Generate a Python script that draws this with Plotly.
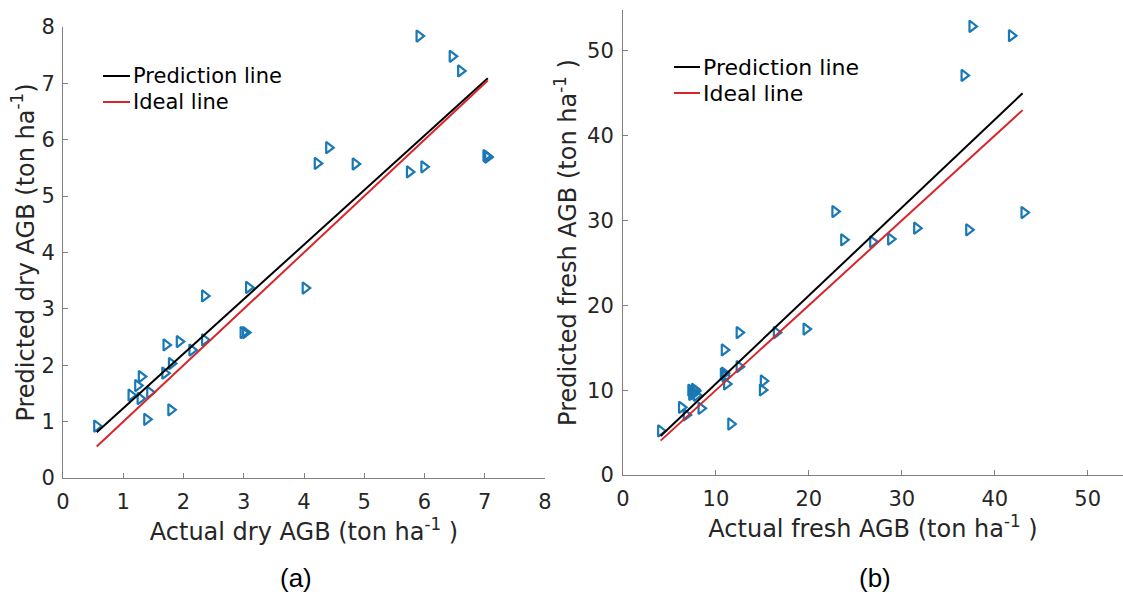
import plotly.graph_objects as go

# ---- (a) dry above-ground biomass, ton/ha ----
dry_actual = [0.56, 5.91, 6.46, 6.60, 4.41, 4.22, 4.85, 5.75, 5.99, 7.02, 7.05, 7.04,
              4.02, 3.08, 2.35, 2.99, 3.03, 2.35, 1.93, 1.71, 2.14, 1.80, 1.69,
              1.30, 1.24, 1.13, 1.28, 1.44, 1.79, 1.39]
dry_predicted = [0.92, 7.84, 7.48, 7.22, 5.86, 5.58, 5.57, 5.43, 5.52, 5.72, 5.69, 5.70,
                 3.37, 3.38, 3.23, 2.58, 2.58, 2.45, 2.42, 2.36, 2.27, 2.03, 1.86,
                 1.80, 1.64, 1.47, 1.41, 1.52, 1.21, 1.04]
dry_fit_x = [0.56, 7.05]
dry_fit_y = [0.81, 7.09]
dry_ideal = [0.56, 7.05]

# ---- (b) fresh above-ground biomass, ton/ha ----
fresh_actual = [4.05, 37.55, 41.8, 36.7, 22.8, 43.15, 31.6, 37.2, 23.75, 26.87, 28.8,
                19.7, 16.5, 12.5, 10.9, 12.5, 10.9, 11.0, 10.8, 11.15, 15.1, 15.0, 11.6,
                7.3, 7.5, 7.6, 7.8, 7.4, 7.7, 7.9, 6.3, 8.4, 6.8]
fresh_predicted = [5.19, 52.87, 51.77, 47.09, 31.05, 30.93, 29.09, 28.9, 27.71, 27.48, 27.8,
                   17.2, 16.78, 16.78, 14.74, 12.77, 12.0, 11.6, 11.9, 10.73, 11.08, 10.02, 6.01,
                   10.0, 9.8, 9.6, 9.9, 9.5, 10.1, 9.4, 7.98, 7.86, 7.08]
fresh_fit_x = [4.05, 43.0]
fresh_fit_y = [4.6, 45.0]
fresh_ideal = [4.05, 43.0]

legend_labels = ["Prediction line", "Ideal line"]

W, H = 1123, 600
FONT = "DejaVu Sans"
TXT = "#262626"
AXC = "#808080"
MARK = "#1A78B4"
RED = "#D7262B"
LINE_COLORS = ["black", RED]


def px_x(v):
    return v / W


def px_y(v):
    return 1 - v / H


fig = go.Figure()

panels = [
    ("x", "y", dry_actual, dry_predicted, dry_fit_x, dry_fit_y, dry_ideal),
    ("x2", "y2", fresh_actual, fresh_predicted, fresh_fit_x, fresh_fit_y, fresh_ideal),
]
for xa, ya, ax_vals, pr_vals, fx, fy, ideal in panels:
    fig.add_trace(go.Scatter(
        x=ax_vals, y=pr_vals, mode="markers", xaxis=xa, yaxis=ya, showlegend=False,
        marker=dict(symbol="triangle-right-open", size=10, color=MARK,
                    line=dict(width=2.2, color=MARK)),
    ))
    fig.add_trace(go.Scatter(
        x=fx, y=fy, mode="lines", xaxis=xa, yaxis=ya, name=legend_labels[0],
        line=dict(color=LINE_COLORS[0], width=2), showlegend=False,
    ))
    fig.add_trace(go.Scatter(
        x=ideal, y=ideal, mode="lines", xaxis=xa, yaxis=ya, name=legend_labels[1],
        line=dict(color=LINE_COLORS[1], width=2), showlegend=False,
    ))

# Compact in-axes legends: short line sample followed by the label
shapes, annotations = [], []
legend_boxes = [
    # (sample left px, sample right px, first row y px, row step px, font size)
    (103, 130, 76, 26, 21),
    (674, 700, 67, 26, 22),
]
for x0, x1, y0, step, fsize in legend_boxes:
    for i, (label, color) in enumerate(zip(legend_labels, LINE_COLORS)):
        yy = y0 + i * step
        shapes.append(dict(type="line", xref="paper", yref="paper",
                           x0=px_x(x0), x1=px_x(x1), y0=px_y(yy), y1=px_y(yy),
                           line=dict(color=color, width=2)))
        annotations.append(dict(text=label, xref="paper", yref="paper",
                                x=px_x(x1 + 1), y=px_y(yy), xanchor="left", yanchor="middle",
                                showarrow=False,
                                font=dict(family=FONT, size=fsize, color="black")))

for cap, cx in (("(a)", 296), ("(b)", 875)):
    annotations.append(dict(text=cap, x=px_x(cx), y=px_y(578), xref="paper", yref="paper",
                            xanchor="center", yanchor="middle", showarrow=False,
                            font=dict(family="Liberation Sans", size=26, color="black")))

axis_common = dict(
    showline=True, linecolor=AXC, linewidth=1, showgrid=False, zeroline=False,
    ticks="inside", ticklen=5, tickcolor=AXC, tickwidth=1,
    tickfont=dict(family=FONT, size=21, color=TXT), automargin=False,
    mirror=False, ticklabelstandoff=5,
)
title_font = dict(family=FONT, size=24, color=TXT)

fig.update_layout(
    width=W, height=H, template="none", showlegend=False,
    margin=dict(l=0, r=0, t=0, b=0),
    paper_bgcolor="white", plot_bgcolor="white",
    xaxis=dict(axis_common, domain=[px_x(63), px_x(545)], anchor="y",
               range=[0, 8], tickvals=list(range(0, 9)),
               title=dict(text="Actual dry AGB (ton ha<sup>-1</sup> )", font=title_font, standoff=6)),
    yaxis=dict(axis_common, domain=[px_y(478), px_y(27)], anchor="x",
               range=[0, 8], tickvals=list(range(0, 9)), ticklabelstandoff=3,
               title=dict(text="Predicted dry AGB (ton ha<sup>-1</sup>)", font=title_font, standoff=0)),
    xaxis2=dict(axis_common, domain=[px_x(623), 1.0], anchor="y2",
                range=[0, 53.8], tickvals=list(range(0, 51, 10)),
                title=dict(text="Actual fresh AGB (ton ha<sup>-1</sup> )", font=title_font, standoff=6)),
    yaxis2=dict(axis_common, domain=[px_y(475), px_y(10)], anchor="x2",
                range=[0, 54.8], tickvals=list(range(0, 51, 10)), ticklabelstandoff=4,
                title=dict(text="Predicted fresh AGB (ton ha<sup>-1</sup> )", font=title_font, standoff=3)),
    shapes=shapes,
    annotations=annotations,
)

fig.write_html("out.html")
